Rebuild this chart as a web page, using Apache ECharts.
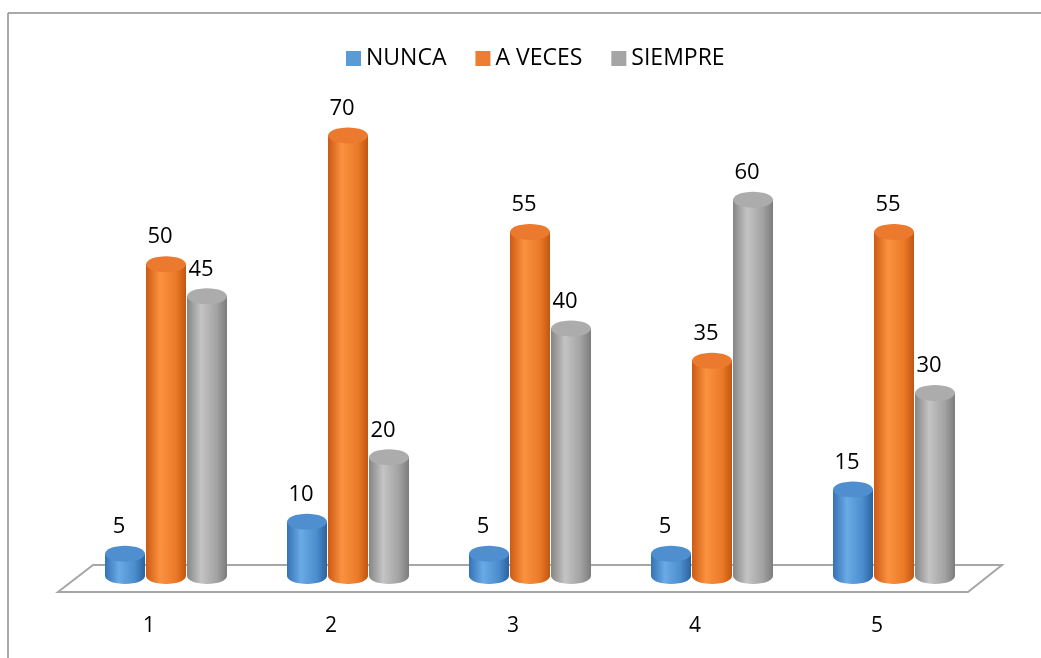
<!DOCTYPE html>
<html>
<head>
<meta charset="utf-8">
<script src="https://cdn.jsdelivr.net/npm/echarts@6/dist/echarts.min.js"></script>
<style>
  html, body { margin: 0; padding: 0; background: #fff; }
  #chart { width: 1041px; height: 658px; }
</style>
</head>
<body>
<div id="chart"></div>
<script>
var categories = ['1', '2', '3', '4', '5'];
var nunca = [5, 10, 5, 5, 15];
var aVeces = [50, 70, 55, 35, 55];
var siempre = [45, 20, 40, 60, 30];

var FONT = '"Open Sans", "Liberation Sans", sans-serif';

var chart = echarts.init(document.getElementById('chart'));

function grad(c) {
	return new echarts.graphic.LinearGradient(0, 0, 1, 0, [
		{offset: 0, color: c[0]},
		{offset: 0.35, color: c[1]},
		{offset: 0.75, color: c[2]},
		{offset: 1, color: c[3]}
	]);
}

// cylinder foot sits on the floor, a bit above the value-0 line (3D perspective)
function cylinder(name, values, offset, body, topColor, legendColor) {
	return {
		name: name,
		type: 'custom',
		itemStyle: {color: legendColor},
		data: values.map(function (v, i) { return [i, v]; }),
		encode: {x: 0, y: 1},
		z: 3,
		renderItem: function (params, api) {
			var i = api.value(0), v = api.value(1);
			var top = api.coord([i, v]);
			var base = api.coord([i, 0]);
			var cx = top[0] + offset;
			var w = 40, ry = 8;
			var footY = base[1] - 10;
			return {
				type: 'group',
				children: [
					{type: 'ellipse', shape: {cx: cx, cy: footY, rx: w / 2, ry: ry}, style: {fill: grad(body)}},
					{type: 'rect', shape: {x: cx - w / 2, y: top[1], width: w, height: footY - top[1]}, style: {fill: grad(body)}},
					{type: 'ellipse', shape: {cx: cx, cy: top[1], rx: w / 2, ry: ry}, style: {fill: topColor}},
					{type: 'text', style: {text: String(v), x: cx - 6, y: top[1] - 27, align: 'center', verticalAlign: 'middle', font: '22px ' + FONT, fill: '#000'}}
				]
			};
		}
	};
}

var option = {
	backgroundColor: '#fff',
	animation: false,
	grid: {left: 75, right: 56, top: 71, bottom: 72},
	legend: {
		top: 42,
		left: 341,
		icon: 'rect',
		itemWidth: 15,
		itemHeight: 15,
		itemGap: 29,
		textStyle: {fontFamily: FONT, fontSize: 23, color: '#000'},
		data: ['NUNCA', 'A VECES', 'SIEMPRE']
	},
	graphic: [
		{type: 'line', shape: {x1: 8, y1: 13, x2: 1041, y2: 13}, style: {stroke: '#8c8c8c', lineWidth: 1.5}, z: 0},
		{type: 'line', shape: {x1: 8, y1: 13, x2: 8, y2: 658}, style: {stroke: '#8c8c8c', lineWidth: 1.5}, z: 0},
		{type: 'polygon', shape: {points: [[58, 592], [93, 565], [1002, 565], [968, 592]]}, style: {fill: '#fff', stroke: '#a6a6a6', lineWidth: 2}, z: 0}
	],
	xAxis: {
		type: 'category',
		data: categories,
		axisLine: {show: false},
		axisTick: {show: false},
		axisLabel: {margin: 30, padding: [0, 34, 0, 0], fontFamily: FONT, fontSize: 21, color: '#000'}
	},
	yAxis: {
		type: 'value',
		min: 0,
		max: 80,
		show: false,
		splitLine: {show: false}
	},
	series: [
		cylinder('NUNCA', nunca, -41, ['#3572b5', '#6aaae6', '#4b8ccc', '#2b629e'], '#4f8fd0', '#5b9bd5'),
		cylinder('A VECES', aVeces, 0, ['#cc5a14', '#fb923f', '#ea7a28', '#c2560f'], '#eb7a2e', '#ed7d31'),
		cylinder('SIEMPRE', siempre, 41, ['#858585', '#c4c4c4', '#a2a2a2', '#7c7c7c'], '#acacac', '#a5a5a5')
	]
};
chart.setOption(option);
</script>
</body>
</html>
